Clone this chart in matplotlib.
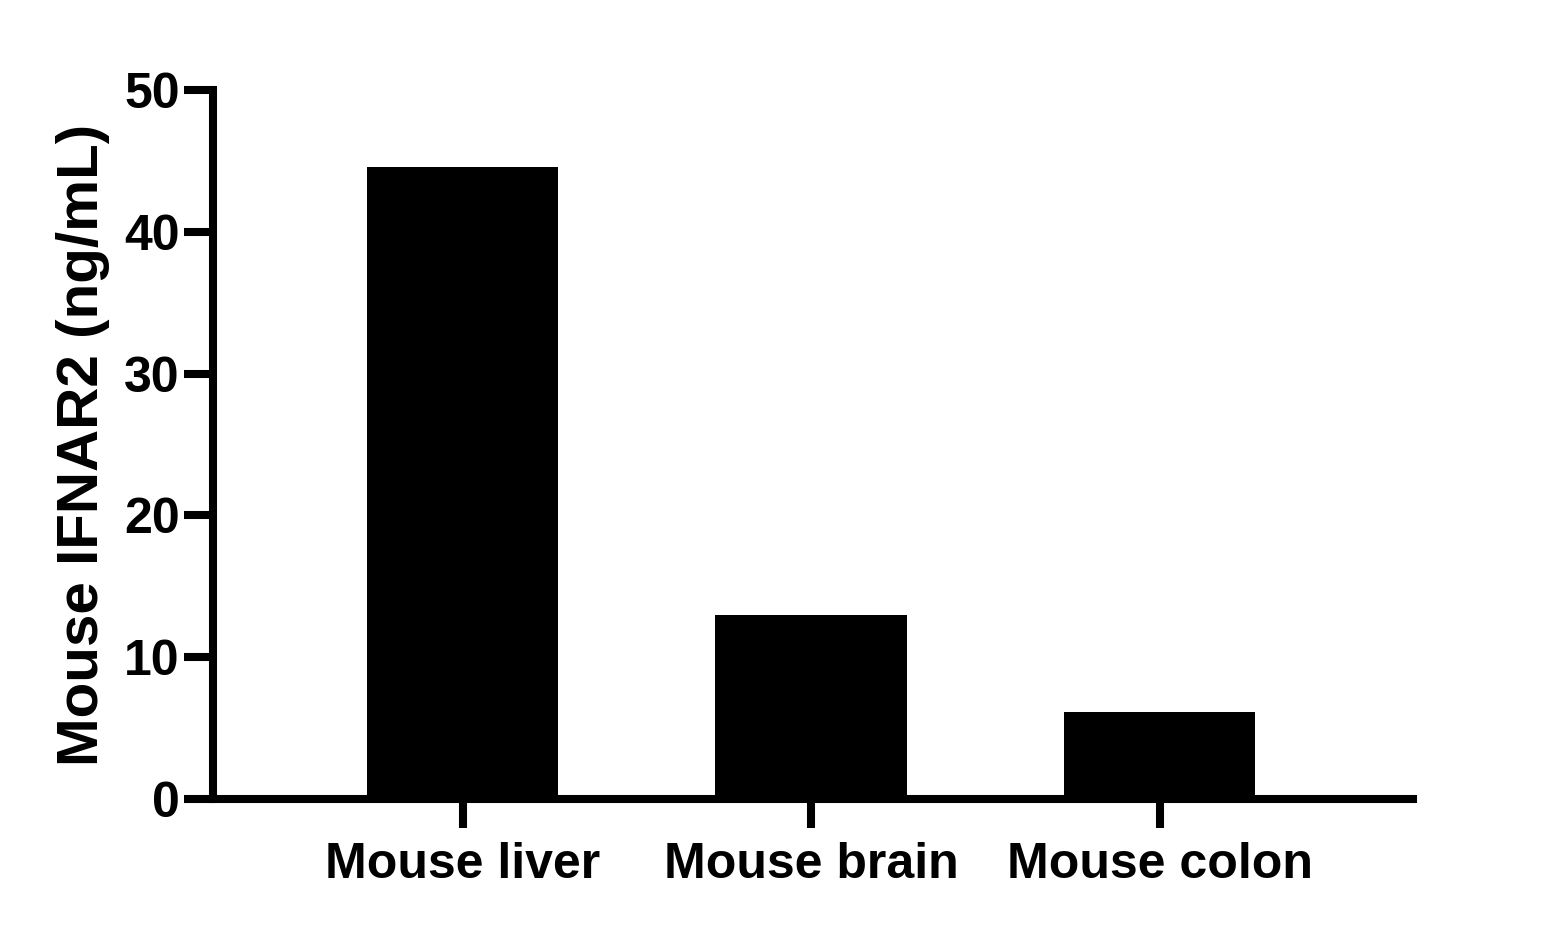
import matplotlib
matplotlib.use("Agg")
import matplotlib.pyplot as plt

categories = ["Mouse liver", "Mouse brain", "Mouse colon"]
values = [44.6, 13.0, 6.1]
y_ticks = [0, 10, 20, 30, 40, 50]

plt.rcParams['font.family'] = ['Liberation Sans', 'DejaVu Sans']
plt.rcParams['font.weight'] = 'bold'

fig = plt.figure(figsize=(15.63, 9.30), dpi=100)
ax = fig.add_axes([0.1363, 0.1409, 0.904 - 0.1363, 0.9032 - 0.1409])

x = list(range(len(categories)))
ax.bar(x, values, width=0.55, color='black', zorder=1)

ax.set_xlim(-0.716, 2.727)
ax.set_ylim(0, 50)
ax.set_yticks(y_ticks)
ax.set_xticks(x)
ax.set_xticklabels(categories)

for side in ['top', 'right']:
    ax.spines[side].set_visible(False)
for side in ['left', 'bottom']:
    ax.spines[side].set_linewidth(5.8)
    ax.spines[side].set_capstyle('projecting')
    ax.spines[side].set_zorder(3)

ax.tick_params(axis='y', length=21, width=5.8, labelsize=36, pad=3)
ax.tick_params(axis='x', length=21, width=5.8, labelsize=36, pad=10)
for lab in ax.get_xticklabels() + ax.get_yticklabels():
    lab.set_fontweight('bold')

ax.set_ylabel("Mouse IFNAR2 (ng/mL)", fontsize=42, fontweight='bold', labelpad=10)

fig.savefig("out.png", dpi=100)
